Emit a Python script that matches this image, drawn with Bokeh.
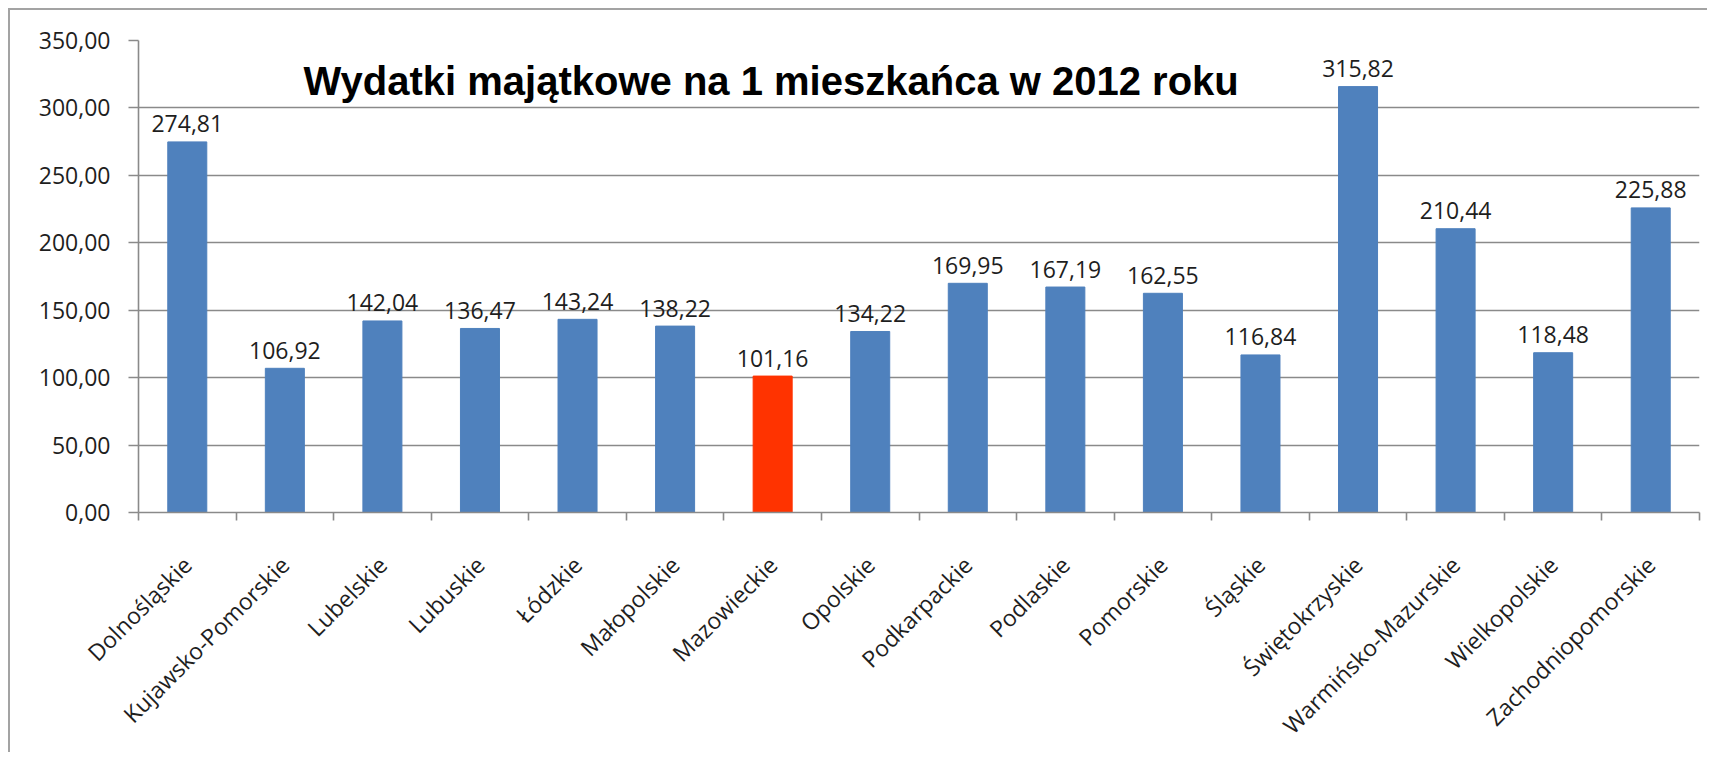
import numpy as np
from bokeh.plotting import figure
from bokeh.models import ColumnDataSource, Range1d, FixedTicker, LinearAxis, Label, Grid
from bokeh.core.properties import value
from bokeh.embed import file_html
from bokeh.resources import INLINE

categories = ["Dolnośląskie", "Kujawsko-Pomorskie", "Lubelskie", "Lubuskie", "Łódzkie",
              "Małopolskie", "Mazowieckie", "Opolskie", "Podkarpackie", "Podlaskie",
              "Pomorskie", "Śląskie", "Świętokrzyskie", "Warmińsko-Mazurskie",
              "Wielkopolskie", "Zachodniopomorskie"]
values = [274.81, 106.92, 142.04, 136.47, 143.24, 138.22, 101.16, 134.22,
          169.95, 167.19, 162.55, 116.84, 315.82, 210.44, 118.48, 225.88]
highlight = "Mazowieckie"
y_ticks = [0, 50, 100, 150, 200, 250, 300, 350]
title_text = "Wydatki majątkowe na 1 mieszkańca w 2012 roku"

BLUE = "#4F81BD"
RED = "#FF3300"
GRID = "#8a8a8a"
TXT = "#1e1e1e"
FONT = "Open Sans"

n = len(categories)
xs = [i + 0.5 for i in range(n)]
colors = [RED if c == highlight else BLUE for c in categories]
labels = [f"{v:.2f}".replace(".", ",") for v in values]

src = ColumnDataSource(dict(x=xs, top=values, color=colors, label=labels, cat=categories))

p = figure(width=1699, height=744, output_backend="svg", toolbar_location=None,
           x_range=Range1d(0, n), y_range=Range1d(0, 350),
           min_border_left=128, min_border_top=30, min_border_right=10, min_border_bottom=237,
           x_axis_type=None, y_axis_type=None)
p.styles = {"margin-left": "8px", "margin-top": "8px",
            "border-left": "2px solid #a3a3a3", "border-top": "2px solid #a3a3a3"}
p.outline_line_color = None
p.background_fill_color = "white"
p.border_fill_color = "white"

p.vbar(x="x", top="top", bottom=0, width=0.4, color="color", line_color="color", source=src)
p.text(x="x", y="top", text="label", source=src, text_align="center", text_baseline="alphabetic",
       y_offset=-18, text_font=value(FONT), text_font_size="23px", text_color=TXT)

xaxis = LinearAxis(ticker=FixedTicker(ticks=xs, minor_ticks=list(range(n + 1))),
                   major_label_overrides={x: c for x, c in zip(xs, categories)})
xaxis.major_tick_line_color = None
xaxis.major_tick_out = 0
xaxis.major_tick_in = 0
xaxis.minor_tick_out = 8
xaxis.minor_tick_in = 0
xaxis.minor_tick_line_color = GRID
xaxis.minor_tick_line_width = 1.6
xaxis.axis_line_color = GRID
xaxis.axis_line_width = 1.6
xaxis.major_label_orientation = np.pi / 4
xaxis.major_label_standoff = 40
xaxis.major_label_text_font = FONT
xaxis.major_label_text_font_size = "23px"
xaxis.major_label_text_color = TXT
p.add_layout(xaxis, "below")

yaxis = LinearAxis(ticker=FixedTicker(ticks=y_ticks, minor_ticks=[]),
                   major_label_overrides={t: f"{t:.2f}".replace(".", ",") for t in y_ticks})
yaxis.major_tick_out = 10
yaxis.major_tick_in = 0
yaxis.major_tick_line_color = GRID
yaxis.major_tick_line_width = 1.6
yaxis.axis_line_color = GRID
yaxis.axis_line_width = 1.6
yaxis.major_label_standoff = 18
yaxis.major_label_text_font = FONT
yaxis.major_label_text_font_size = "23px"
yaxis.major_label_text_color = TXT
p.add_layout(yaxis, "left")

p.add_layout(Grid(dimension=1, ticker=yaxis.ticker, grid_line_color=GRID, grid_line_width=1.6))

title = Label(x=165, y=432, x_units="screen", y_units="screen", text=title_text,
              text_font="Liberation Sans", text_font_style="bold", text_font_size="40px",
              text_color="black", text_align="left", text_baseline="alphabetic")
p.add_layout(title)

open("out.html", "w").write(file_html(p, INLINE))
